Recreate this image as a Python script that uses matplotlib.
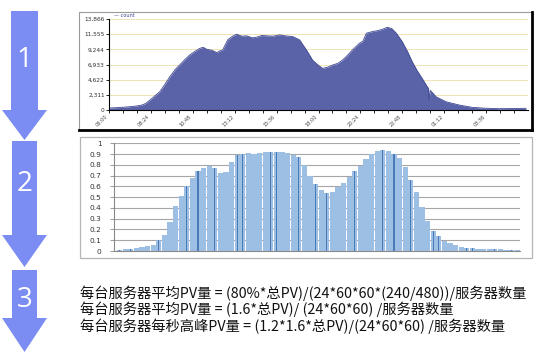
import matplotlib
matplotlib.use("Agg")
import matplotlib.pyplot as plt
from matplotlib.patches import Polygon, Rectangle
from matplotlib.lines import Line2D
import numpy as np

# ---------------- data ----------------
# chart 1: traffic count over 24h (hours from 06:00)
hours1 = [6.0, 6.6, 7.2, 7.6, 7.89, 8.1, 8.34, 8.6, 8.91, 9.2, 9.49, 9.8, 10.06, 10.35,
          10.63, 10.9, 11.2, 11.4, 11.6, 11.9, 12.17, 12.35, 12.51, 12.8, 13.05, 13.31,
          13.6, 13.89, 14.2, 14.46, 14.75, 15.03, 15.4, 15.77, 16.1, 16.51, 16.91, 17.31,
          17.66, 17.95, 18.23, 18.5, 18.8, 19.1, 19.37, 19.65, 19.94, 20.34, 20.55, 20.74,
          21.09, 21.4, 21.66, 21.94, 22.2, 22.46, 22.8, 23.1, 23.37, 23.65, 23.94, 24.23,
          24.3, 24.34, 24.4, 24.74, 25.31, 26.06, 26.8, 27.5, 28.34, 29.1, 29.88]
count1 = [300, 380, 500, 620, 760, 1000, 1500, 2100, 2800, 3900, 5100, 6200, 6900, 7700,
          8400, 8900, 9400, 9550, 9250, 9100, 8750, 9000, 9150, 10700, 11200, 11550,
          11250, 11300, 11000, 11100, 11350, 11300, 11250, 11450, 11300, 11200, 10700, 9150,
          7600, 6900, 6350, 6500, 6850, 7100, 7600, 8300, 9150, 10150, 10500, 11700,
          11950, 12100, 12300, 12600, 12400, 11700, 10400, 8900, 7350, 6000, 4800, 3550,
          3300, 1500, 3000, 2000, 1250, 760, 400, 280, 200, 220, 260]
ytick1 = [0, 2311, 4622, 6933, 9244, 11555, 13866]
xtick1_labels = ["06:00", "08:24", "10:48", "13:12", "15:36", "18:00",
                 "20:24", "22:48", "01:12", "03:36"]

# chart 2: normalised PV ratio per time slot
ratio2 = [0.01, 0.015, 0.02, 0.03, 0.035, 0.045, 0.06, 0.10, 0.15, 0.27,
          0.42, 0.51, 0.60, 0.68, 0.74, 0.775, 0.785, 0.77, 0.72, 0.73,
          0.83, 0.89, 0.905, 0.91, 0.905, 0.91, 0.915, 0.915, 0.92, 0.915,
          0.91, 0.895, 0.87, 0.80, 0.70, 0.62, 0.565, 0.54, 0.545, 0.59,
          0.635, 0.69, 0.74, 0.79, 0.85, 0.90, 0.925, 0.935, 0.93, 0.905,
          0.86, 0.78, 0.66, 0.55, 0.41, 0.28, 0.19, 0.135, 0.095, 0.07,
          0.052, 0.04, 0.032, 0.027, 0.022, 0.02, 0.018, 0.016, 0.014, 0.013,
          0.012, 0.01]
ytick2 = [0, 0.1, 0.2, 0.3, 0.4, 0.5, 0.6, 0.7, 0.8, 0.9, 1]
ytick2_labels = ["0", "0.1", "0.2", "0.3", "0.4", "0.5", "0.6", "0.7", "0.8", "0.9", "1"]

formulas = [
    "每台服务器平均PV量 = (80%*总PV)/(24*60*60*(240/480))/服务器数量",
    "每台服务器平均PV量 = (1.6*总PV)/ (24*60*60) /服务器数量",
    "每台服务器每秒高峰PV量 = (1.2*1.6*总PV)/(24*60*60) /服务器数量",
]
step_labels = ["1", "2", "3"]

# ---------------- layout ----------------
W, H = 538, 355
fig = plt.figure(figsize=(W / 100, H / 100), dpi=100)
fig.patch.set_facecolor("white")


def ax_px(l, t, r, b, **kw):
    return fig.add_axes([l / W, 1 - b / H, (r - l) / W, (b - t) / H], **kw)


ov = fig.add_axes([0, 0, 1, 1], zorder=0)
ov.set_xlim(0, W)
ov.set_ylim(H, 0)
ov.axis("off")

arrow_col = "#7b8df3"
arrows = [(11, 38, 11, 110, 2, 47, 140),
          (12, 37, 141, 235, 2, 47, 267),
          (12, 37, 270, 318, 2, 47, 352)]
for (sl, sr, st, hb, hl, hr, tip) in arrows:
    cx = (sl + sr) / 2
    pts = [(sl, st), (sr, st), (sr, hb), (hr, hb), (cx, tip), (hl, hb), (sl, hb)]
    ov.add_patch(Polygon(pts, closed=True, facecolor=arrow_col, edgecolor="none", zorder=1))
for lab, y in zip(step_labels, [60, 184, 300]):
    ov.text(24.5, y, lab, color="white", fontsize=20, ha="center", va="center",
            family="Open Sans", zorder=5)

# chart 1 frame
ov.add_patch(Rectangle((79, 12), 453, 118, facecolor="white", edgecolor="#9a9a9a", lw=0.8))
ov.add_line(Line2D([79, 532], [130, 130], color="black", lw=2))
ov.add_line(Line2D([532, 532], [12, 130], color="black", lw=2))
# chart 2 frame
ov.add_patch(Rectangle((80, 137), 452, 121, facecolor="white", edgecolor="#b5b5b5", lw=0.9))

# ---------------- chart 1 ----------------
a1 = ax_px(109, 19, 528, 110, zorder=2)
a1.set_facecolor("white")
a1.fill_between(hours1, count1, 0, color="#5a63a8", lw=0)
a1.plot(hours1, count1, color="#3f4893", lw=0.6)
a1.set_xlim(6, 30)
a1.set_ylim(0, 13866)
a1.set_yticks(ytick1)
a1.set_yticklabels([f"{v:,}" for v in ytick1], fontsize=4.2, color="#333333")
for v in ytick1[1:]:
    a1.axhline(v, color="#efe3b5", lw=0.7, zorder=0)
xt = [6 + 2.4 * i for i in range(len(xtick1_labels))]
a1.set_xticks(xt)
a1.set_xticklabels(xtick1_labels, rotation=45, ha="right", fontsize=3.6, color="#444444")
a1.set_xticks(np.arange(6, 30, 0.8), minor=True)
a1.tick_params(axis="both", length=2, width=0.6, pad=1)
a1.tick_params(axis="x", which="minor", length=2, width=0.6)
for s in ["top", "right"]:
    a1.spines[s].set_visible(False)
a1.spines["left"].set_linewidth(0.8)
a1.spines["bottom"].set_linewidth(0.8)
a1.text(0.012, 1.01, "— count", transform=a1.transAxes, fontsize=3.6,
        color="#3f4893", va="bottom", ha="left")

# ---------------- chart 2 ----------------
a2 = ax_px(114, 143.3, 520, 251, zorder=2)
a2.set_facecolor("none")
x2 = np.arange(len(ratio2))
a2.bar(x2, ratio2, width=0.9, color="#9dbfe4", lw=0, zorder=2)
dark = (x2 % 5 == 2) | (x2 % 7 == 0)
a2.bar(x2[dark], np.array(ratio2)[dark], width=0.22, color="#4a7ab8", lw=0, zorder=3)
a2.set_xlim(-1.0, len(ratio2) - 0.5)
a2.set_ylim(0, 1)
a2.set_yticks(ytick2)
a2.set_yticklabels(ytick2_labels, fontsize=5.3, color="#333333")
for v in ytick2[1:]:
    a2.axhline(v, color="#a6a6a6", lw=0.8, zorder=1)
a2.set_xticks([])
a2.tick_params(axis="y", length=3, width=0.6, color="#8a8a8a", pad=6)
for s in ["top", "right"]:
    a2.spines[s].set_visible(False)
a2.spines["left"].set_color("#8a8a8a")
a2.spines["bottom"].set_color("#8a8a8a")
a2.spines["left"].set_linewidth(0.8)
a2.spines["bottom"].set_linewidth(0.8)

# ---------------- formulas ----------------
for s, y in zip(formulas, [293, 309.5, 326]):
    ov.text(80, y, s, fontsize=10.3, color="#111111", ha="left", va="center",
            family=["Noto Sans CJK SC", "DejaVu Sans"])

fig.savefig("out.png", dpi=100)
